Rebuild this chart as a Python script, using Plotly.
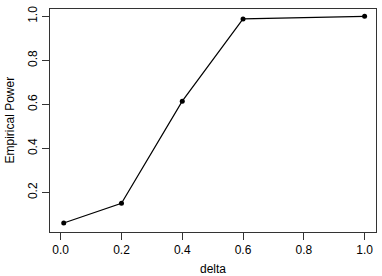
import plotly.graph_objects as go

delta = [0.01, 0.2, 0.4, 0.6, 1.0]
power = [0.062, 0.151, 0.615, 0.988, 1.0]
x_ticks = [0.0, 0.2, 0.4, 0.6, 0.8, 1.0]
y_ticks = [0.2, 0.4, 0.6, 0.8, 1.0]

W, H = 382, 276
L, R, T, B = 50, 6, 9, 44

fig = go.Figure()
fig.add_trace(go.Scatter(
    x=delta, y=power, mode="lines+markers",
    line=dict(color="black", width=1.2),
    marker=dict(color="black", size=5),
    showlegend=False,
))

font = dict(family="Liberation Sans, Arial, sans-serif", size=12, color="black")

fig.update_layout(
    width=W, height=H,
    margin=dict(l=L, r=R, t=T, b=B, pad=0),
    paper_bgcolor="white", plot_bgcolor="white",
    font=font,
    xaxis=dict(
        range=[-0.0352, 1.0375], tickvals=x_ticks,
        ticktext=[f"{v:.1f}" for v in x_ticks],
        ticks="outside", ticklen=7, tickwidth=1, tickcolor="#333",
        showline=True, linecolor="#333", linewidth=1, mirror=True,
        showgrid=False, zeroline=False, tickfont=font,
    ),
    yaxis=dict(
        range=[0.021, 1.0332], tickvals=y_ticks,
        ticktext=[f"{v:.1f}" for v in y_ticks],
        ticks="outside", ticklen=7, tickwidth=1, tickcolor="#333",
        showline=True, linecolor="#333", linewidth=1, mirror=True,
        showgrid=False, zeroline=False, tickangle=-90, tickfont=font,
    ),
    annotations=[
        dict(text="delta", xref="paper", yref="paper", x=0.5, y=0,
             yshift=-37, xanchor="center", yanchor="middle",
             showarrow=False, font=font),
        dict(text="Empirical Power", xref="paper", yref="paper", x=0, y=0.5,
             xshift=-41, xanchor="center", yanchor="middle", textangle=-90,
             showarrow=False, font=font),
    ],
)

fig.write_html("out.html")
